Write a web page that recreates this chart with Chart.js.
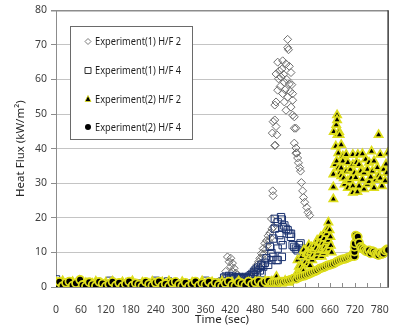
<!DOCTYPE html>
<html>
<head>
<meta charset="utf-8">
<script src="https://cdn.jsdelivr.net/npm/chart.js@4/dist/chart.umd.min.js"></script>
<style>
  html, body { margin: 0; padding: 0; background: #fff; }
  #c { display: block; }
</style>
</head>
<body>
<canvas id="c" width="398" height="327"></canvas>
<script>
// axis ranges / ticks
const xMax = 800, xStep = 60, xLastLabel = 780, xMinorStep = 30;
const yMax = 80, yStep = 10;

const seriesNames = ["Experiment(1) H/F 2", "Experiment(1) H/F 4", "Experiment(2) H/F 2", "Experiment(2) H/F 4"];

// [time (sec), heat flux (kW/m2)]
const exp1Hf2 = [
  [0,1.0],[10,0.8],[20,0.7],[30,0.9],[40,0.6],[50,0.8],[60,1.0],[70,0.7],[80,0.6],[90,0.8],[100,0.9],[110,0.7],
  [120,0.6],[130,0.8],[140,0.9],[150,0.7],[160,0.8],[170,0.6],[180,0.7],[190,0.9],[200,0.8],[210,0.6],[220,0.7],
  [230,0.8],[240,0.9],[250,0.7],[260,0.6],[270,0.8],[280,0.9],[290,0.7],[300,0.8],[310,0.6],[320,0.7],[330,0.9],
  [340,0.8],[350,0.7],[360,0.9],[370,0.8],[380,1.0],[390,1.2],[400,1.5],
  [405,2.6],[409,4.5],[413,8.7],[417,7.3],[421,8.3],[421,5.9],[425,6.9],[425,4.5],[429,5.4],[433,4.0],[437,3.5],
  [440,3.0],[444,2.4],[448,2.6],[452,2.2],[456,2.6],[460,2.4],[464,2.7],[468,3.2],[472,3.0],[476,4.5],[478,3.8],
  [480,5.4],[484,6.4],[486,5.2],[488,7.3],[491,8.3],[493,6.8],[495,9.7],[497,8.4],[499,11.1],[501,9.6],[503,12.6],
  [505,10.8],[507,13.4],[509,12.0],[511,14.8],[513,13.2],[515,15.6],[517,14.2],[519,19.7],[520,16.8],[521,44.5],
  [522,27.8],[523,26.4],[523,47.8],[524,17.4],[527,40.9],[527,48.3],[527,52.6],[528,41.0],[530,46.4],[530,53.5],
  [530,61.6],[532,44.0],[534,56.9],[534,65.0],[536,60.2],[538,62.5],[540,58.0],[542,60.7],[544,63.0],[546,65.4],
  [546,55.9],[548,61.5],[550,59.2],[550,53.5],[552,57.0],[554,64.5],[554,51.1],[556,60.0],[558,54.9],[558,71.6],
  [558,69.2],[560,68.6],[562,58.7],[562,63.8],[564,56.5],[566,62.0],[566,52.0],[568,58.5],[570,55.9],[570,54.0],
  [570,49.7],[574,49.2],[574,45.9],[578,45.9],[574,41.6],[578,40.2],[578,38.7],[580,38.7],[582,37.3],[584,35.9],
  [587,34.5],[589,33.5],[591,30.2],[594,27.8],[596,25.9],[599,24.5],[604,23.0],[607,21.6],[611,20.7]
];

const exp1Hf4 = [
  [0,2.2],[10,1.0],[20,0.8],[30,0.9],[40,0.7],[50,0.9],[60,0.8],[70,1.0],[80,0.7],[90,0.9],[100,0.8],[110,1.0],
  [120,0.9],[130,1.8],[140,1.0],[150,0.8],[160,0.9],[170,0.7],[180,0.9],[190,0.8],[200,1.0],[210,0.8],[220,0.9],
  [230,1.0],[240,1.8],[250,1.2],[260,0.9],[270,1.6],[280,0.8],[290,1.0],[300,0.9],[310,0.8],[320,1.0],[330,0.9],
  [340,1.0],[350,1.1],[360,1.8],[370,1.0],[380,1.2],[390,1.3],[400,1.6],
  [405,2.7],[409,3.0],[413,2.4],[417,3.2],[421,2.6],[425,3.0],[429,2.4],[433,2.8],[437,2.5],[441,2.9],[445,2.4],
  [449,2.7],[453,2.5],[457,2.9],[461,2.6],[465,3.0],[469,3.4],[473,3.8],[477,4.4],[481,5.0],[484,4.2],[487,5.6],
  [491,4.8],[495,4.0],[495,6.4],[499,5.9],[503,7.0],[507,8.3],[511,6.4],[515,11.6],[519,7.8],[519,9.8],[523,14.0],
  [523,8.7],[527,16.9],[527,19.7],[531,7.8],[534,18.7],[534,11.1],[534,7.8],[538,15.0],[542,20.2],[542,13.5],
  [544,19.5],[544,8.7],[546,17.3],[546,12.1],[550,17.8],[554,16.8],[558,16.4],[562,15.4],[566,15.4],[566,14.5],
  [570,12.1],[574,11.6],[578,11.1],[582,10.6],[585,12.1],[589,12.6],[593,11.1],[597,8.5],[601,7.0],[605,5.9],[609,5.5]
];

const exp2Hf2 = [
  [0,1.4],[8,0.3],[16,1.7],[24,0.8],[32,0.2],[40,1.5],[48,0.9],[56,1.8],[64,0.4],[72,1.2],[80,0.3],[88,1.0],
  [96,1.6],[104,0.6],[112,0.2],[120,1.3],[128,0.5],[136,1.6],[144,0.9],[152,0.3],[160,1.4],[168,1.0],[176,0.2],
  [184,1.7],[192,0.7],[200,0.4],[208,1.3],[216,0.3],[224,1.0],[232,1.6],[240,0.5],[248,0.2],[256,1.4],[264,0.8],
  [272,1.7],[280,0.3],[288,1.1],[296,0.5],[304,1.5],[312,0.8],[320,0.2],[328,1.3],[336,1.0],[344,0.3],[352,1.7],
  [360,0.7],[368,0.4],[376,1.4],[384,0.3],[392,1.0],[400,1.6],[408,0.7],[416,0.2],[424,1.4],[432,0.5],[440,1.7],
  [448,0.9],[456,0.3],[464,1.3],[472,0.6],[480,1.5],[488,0.5],[496,1.2],[504,1.7],[512,0.8],[520,1.6],[528,1.0],
  [531,3.0],[536,1.6],[544,1.1],[552,1.8],[560,1.3],[568,2.0],[576,2.4],
  [578,3.5],[582,7.8],[585,5.9],[588,4.6],[590,6.0],[592,8.8],[594,5.2],[596,4.6],[597,10.7],[601,7.3],[603,9.8],
  [605,9.5],[607,6.8],[609,12.1],[611,8.6],[612,6.2],[613,10.0],[615,11.5],[617,7.8],[619,9.2],[621,10.7],
  [623,12.0],[625,8.7],[627,11.2],[629,13.5],[629,8.7],[631,9.8],[633,13.0],[633,10.6],[636,13.0],[638,14.5],
  [640,11.0],[640,8.8],[642,12.6],[644,9.7],[646,14.0],[648,15.9],[648,11.6],[650,10.5],[652,15.4],[652,13.0],
  [654,16.8],[656,18.7],[656,13.5],[658,11.0],[659,16.5],[661,14.5],[662,12.0],[664,10.0],
  [668,25.4],[668,28.9],[668,32.6],[669,44.9],[672,35.4],[674,40.7],[675,46.9],[676,36.4],[677,49.7],[677,48.3],
  [678,44.0],[680,38.7],[680,34.4],[682,44.9],[683,44.0],[684,33.0],[687,41.1],[687,34.4],[687,32.1],[691,37.8],
  [691,36.4],[693,31.5],[695,29.7],[699,33.5],[699,38.3],[703,30.7],[703,28.7],[703,36.0],[707,30.7],[709,34.0],
  [711,31.5],[715,38.3],[715,35.4],[715,29.2],[715,27.3],[719,33.0],[722,31.6],[724,36.0],[726,27.5],[727,38.3],
  [730,35.4],[730,29.2],[734,33.5],[738,38.5],[738,31.1],[742,28.3],[742,33.0],[746,36.9],[750,34.0],[750,29.7],
  [754,36.0],[754,30.5],[758,31.8],[760,39.2],[762,33.5],[766,36.4],[766,28.7],[770,31.0],[774,34.5],[777,44.0],
  [777,32.1],[781,38.3],[781,31.5],[785,29.2],[789,34.0],[793,30.7],[795,35.5],[797,33.0],[799,38.7]
];

const exp2Hf4 = [
  [0,0.5],[8,1.5],[16,0.3],[24,1.2],[32,1.6],[40,0.4],[48,1.1],[58,2.1],[64,0.6],[72,0.2],[80,1.4],[88,0.7],
  [96,0.3],[104,1.5],[112,1.0],[120,0.2],[128,0.8],[136,1.5],[144,0.4],[152,1.2],[160,0.2],[168,0.9],[176,1.6],
  [184,0.4],[192,1.1],[200,0.7],[208,0.2],[216,1.5],[224,0.8],[232,0.4],[240,1.2],[248,1.6],[256,0.4],[264,0.9],
  [272,0.2],[280,1.2],[288,1.5],[296,0.7],[304,0.3],[312,1.2],[320,0.2],[328,0.9],[336,1.6],[344,0.4],[352,1.1],
  [360,0.7],[368,1.5],[376,0.3],[384,1.2],[392,0.6],[400,0.2],[408,1.1],[416,1.6],[424,0.6],[432,0.3],[440,1.4],
  [448,1.0],[456,0.5],[464,1.6],[472,0.8],[480,1.3],[488,1.7],[496,0.9],[504,1.5],[512,1.8],[520,1.2],
  [525,1.3],[530,1.4],[535,1.3],[540,1.5],[545,1.6],[550,1.5],[555,1.8],[560,1.9],[565,2.1],[570,2.3],[575,2.5],
  [580,2.4],[585,2.8],[590,3.0],[595,3.2],[600,3.3],[605,3.6],[610,3.8],[615,4.1],[620,4.4],[625,4.6],[630,4.9],
  [635,5.3],[640,5.5],[645,5.7],[650,6.0],[655,6.3],[660,6.4],[665,6.6],[670,6.8],[675,7.2],[680,7.5],[685,7.8],
  [690,8.0],[695,8.1],[700,8.3],[705,8.6],[710,8.8],[714,9.0],[717,9.8],[719,8.9],[719,10.2],[719,11.6],[720,12.6],
  [722,14.9],[724,14.2],[727,14.5],[730,12.8],[734,11.6],[738,11.2],[742,10.8],[746,10.4],[750,10.2],[754,10.6],
  [758,9.7],[762,10.4],[766,10.2],[770,9.6],[774,9.4],[777,9.2],[781,9.8],[785,9.5],[789,9.7],[793,10.5],
  [797,10.9],[800,10.7]
];

const FONT = "'Noto Sans', 'Liberation Sans', sans-serif";
const YELLOW = "#dede1c";

const styles = [
  { shape: "rectRot",  radius: 4.0, fill: "rgba(255,255,255,0)", line: "#6e6e6e", width: 1,   order: 4 },
  { shape: "rect",     radius: 5.2, fill: "rgba(255,255,255,0)", line: "#1c3370", width: 1,   order: 3 },
  { shape: "triangle", radius: 4.6, fill: "#000000",             line: YELLOW,    width: 1.8, order: 2 },
  { shape: "circle",   radius: 3.9, fill: "#000000",             line: YELLOW,    width: 1.8, order: 1 }
];

const allData = [exp1Hf2, exp1Hf4, exp2Hf2, exp2Hf4];

const datasets = allData.map((pts, i) => ({
  label: seriesNames[i],
  data: pts.map(p => ({ x: p[0], y: p[1] })),
  pointStyle: styles[i].shape,
  pointRadius: styles[i].radius,
  pointBackgroundColor: styles[i].fill,
  pointBorderColor: styles[i].line,
  pointBorderWidth: styles[i].width,
  showLine: false,
  order: styles[i].order
}));

// plot frame, inner minor ticks on the time axis, and the boxed legend
const framePlugin = {
  id: "frame",
  beforeDatasetsDraw(chart) {
    const { ctx, chartArea: a, scales: { x } } = chart;
    ctx.save();
    ctx.strokeStyle = "#8c8c8c";
    ctx.lineWidth = 1;
    for (let v = 0; v <= xLastLabel; v += xMinorStep) {
      const px = Math.round(x.getPixelForValue(v)) + 0.5;
      ctx.beginPath();
      ctx.moveTo(px, a.bottom);
      ctx.lineTo(px, a.bottom - 4);
      ctx.stroke();
    }
    ctx.restore();
  },
  afterDatasetsDraw(chart) {
    const { ctx, chartArea: a } = chart;
    ctx.save();
    ctx.strokeStyle = "#3c3c3c";
    ctx.lineWidth = 1.5;
    ctx.beginPath();
    ctx.moveTo(a.right, a.top);
    ctx.lineTo(a.right, a.bottom);
    ctx.stroke();
    ctx.restore();
  },
  afterDraw(chart) {
    const ctx = chart.ctx;
    const bx = 70.5, by = 26.5, bw = 122, bh = 113;
    ctx.save();
    ctx.fillStyle = "#fff";
    ctx.fillRect(bx, by, bw, bh);
    ctx.strokeStyle = "#6a6a6a";
    ctx.lineWidth = 1;
    ctx.strokeRect(bx, by, bw, bh);
    const rowY = [41.5, 70.5, 99, 127];
    const mx = 88;
    ctx.font = "11.5px " + FONT;
    const squeeze = 86 / ctx.measureText(seriesNames[0]).width;
    seriesNames.forEach((name, i) => {
      const y = rowY[i];
      ctx.beginPath();
      if (i === 0) {
        ctx.moveTo(mx, y - 3); ctx.lineTo(mx + 3, y); ctx.lineTo(mx, y + 3); ctx.lineTo(mx - 3, y); ctx.closePath();
        ctx.strokeStyle = "#7a7a7a"; ctx.lineWidth = 1; ctx.stroke();
      } else if (i === 1) {
        ctx.rect(mx - 3, y - 3, 6, 6);
        ctx.strokeStyle = "#333"; ctx.lineWidth = 1; ctx.stroke();
      } else if (i === 2) {
        ctx.moveTo(mx, y - 3.5); ctx.lineTo(mx + 3, y + 2.5); ctx.lineTo(mx - 3, y + 2.5); ctx.closePath();
        ctx.fillStyle = "#000"; ctx.fill();
        ctx.strokeStyle = YELLOW; ctx.lineWidth = 0.8; ctx.stroke();
      } else {
        ctx.arc(mx, y, 3, 0, Math.PI * 2);
        ctx.fillStyle = "#000"; ctx.fill();
      }
      ctx.save();
      ctx.translate(95, y + 0.5);
      ctx.scale(squeeze, 1);
      ctx.fillStyle = "#1e1e1e";
      ctx.textBaseline = "middle";
      ctx.textAlign = "left";
      ctx.fillText(name, 0, 0);
      ctx.restore();
    });
    ctx.restore();
  }
};

new Chart(document.getElementById("c"), {
  type: "scatter",
  data: { datasets },
  plugins: [framePlugin],
  options: {
    responsive: false,
    maintainAspectRatio: false,
    devicePixelRatio: 1,
    animation: false,
    events: [],
    layout: { padding: { top: 7, right: 2, left: 0, bottom: 0 } },
    plugins: { legend: { display: false }, tooltip: { enabled: false } },
    scales: {
      x: {
        type: "linear",
        min: 0,
        max: xMax,
        afterBuildTicks: s => { s.ticks = s.ticks.filter(t => t.value <= xLastLabel); },
        afterFit: s => { s.height = 40; },
        ticks: {
          stepSize: xStep,
          includeBounds: false,
          autoSkip: false,
          maxRotation: 0,
          padding: 9,
          color: "#404040",
          font: { family: FONT, size: 10.5 }
        },
        grid: { display: false },
        border: { display: true, color: "#8c8c8c", width: 1 },
        title: {
          display: true,
          text: "Time (sec)",
          color: "#262626",
          font: { family: FONT, size: 11.5, weight: "normal" },
          padding: { top: 0, bottom: 0 }
        }
      },
      y: {
        min: 0,
        max: yMax,
        afterFit: s => { s.width = 56; },
        ticks: {
          stepSize: yStep,
          padding: 4,
          color: "#404040",
          font: { family: FONT, size: 10.5 }
        },
        grid: {
          color: c => (c.tick && c.tick.value === yMax) ? "#8c8c8c" : "#c4c4c4",
          lineWidth: c => (c.tick && c.tick.value === yMax) ? 1.5 : 1,
          tickColor: "#8c8c8c",
          tickLength: 5
        },
        border: { display: true, color: "#8c8c8c", width: 1 },
        title: {
          display: true,
          text: "Heat Flux (kW/m²)",
          color: "#262626",
          font: { family: FONT, size: 11.5, weight: "normal" },
          padding: { top: 14, bottom: 0 }
        }
      }
    }
  }
});
</script>
</body>
</html>
